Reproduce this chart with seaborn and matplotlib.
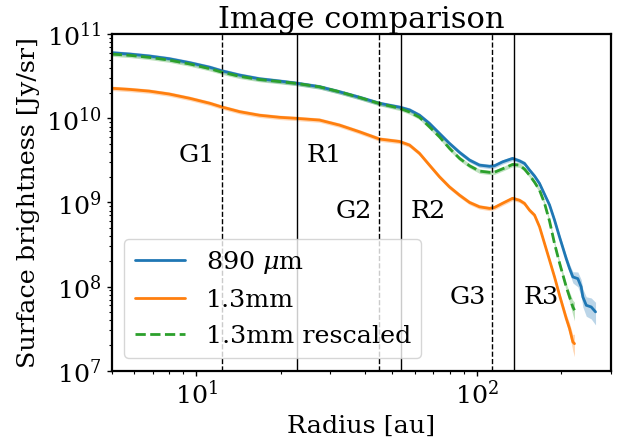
import matplotlib
matplotlib.use("Agg")
import matplotlib.pyplot as plt
import seaborn as sns
import numpy as np

# ---------------- data ----------------
radius_890 = [5.0, 5.8, 6.8, 8.0, 9.5, 11.2, 12.3, 14.3, 16.8, 19.8, 22.8, 27.5,
              32.4, 38.2, 45.0, 53.0, 57.6, 62.5, 67.8, 73.6, 79.9, 86.8, 94.2,
              102.2, 111.0, 115.6, 123.5, 134.1, 142.0, 147.9, 154.1, 160.6,
              167.3, 174.3, 181.6, 189.2, 197.1, 208.3, 214.0, 219.9, 222.9,
              229.1, 235.5, 238.7, 245.5, 255.7, 264.9]
sb_890 = [6.04e10, 5.82e10, 5.52e10, 5.13e10, 4.59e10, 4.05e10, 3.69e10, 3.27e10,
          2.96e10, 2.78e10, 2.62e10, 2.38e10, 2.07e10, 1.78e10, 1.51e10, 1.36e10,
          1.26e10, 1.09e10, 8.71e9, 6.62e9, 5.04e9, 3.94e9, 3.19e9, 2.78e9,
          2.69e9, 2.73e9, 3.04e9, 3.34e9, 3.12e9, 2.91e9, 2.43e9, 2.06e9,
          1.68e9, 1.25e9, 9.33e8, 6.17e8, 3.89e8, 2.14e8, 1.64e8, 1.30e8,
          1.28e8, 1.24e8, 9.89e7, 7.52e7, 5.98e7, 5.71e7, 4.99e7]
err_890 = [0.06, 0.06, 0.06, 0.06, 0.06, 0.06, 0.06, 0.06, 0.06, 0.06, 0.06, 0.06,
           0.06, 0.06, 0.06, 0.06, 0.06, 0.06, 0.06, 0.06, 0.06, 0.06, 0.06, 0.06,
           0.06, 0.06, 0.06, 0.06, 0.06, 0.06, 0.06, 0.06, 0.06, 0.06, 0.06, 0.07,
           0.08, 0.10, 0.12, 0.15, 0.17, 0.20, 0.22, 0.24, 0.26, 0.28, 0.30]

radius_13 = [5.0, 5.8, 6.8, 8.0, 9.5, 11.2, 12.3, 14.3, 16.8, 19.8, 22.8, 27.5,
             32.4, 38.2, 45.0, 53.0, 57.6, 62.5, 67.8, 73.6, 79.9, 86.8, 94.2,
             102.2, 111.0, 115.6, 123.5, 134.1, 142.0, 147.9, 154.1, 160.6,
             167.3, 174.3, 181.6, 189.2, 197.1, 208.3, 214.0, 219.9, 222.9]
sb_13 = [2.28e10, 2.21e10, 2.11e10, 1.95e10, 1.73e10, 1.51e10, 1.37e10, 1.20e10,
         1.09e10, 1.03e10, 1.00e10, 9.55e9, 8.32e9, 6.92e9, 5.68e9, 5.31e9,
         4.81e9, 3.83e9, 2.78e9, 2.02e9, 1.53e9, 1.22e9, 1.00e9, 8.87e8,
         8.49e8, 8.71e8, 9.77e8, 1.12e9, 1.06e9, 9.73e8, 8.09e8, 7.06e8,
         5.13e8, 3.25e8, 2.06e8, 1.30e8, 7.89e7, 4.17e7, 3.16e7, 2.19e7, 2.09e7]
err_13 = [0.06, 0.06, 0.06, 0.06, 0.06, 0.06, 0.06, 0.06, 0.06, 0.06, 0.06, 0.06,
          0.06, 0.06, 0.06, 0.06, 0.06, 0.06, 0.06, 0.06, 0.06, 0.06, 0.06, 0.06,
          0.06, 0.06, 0.06, 0.06, 0.06, 0.06, 0.06, 0.06, 0.06, 0.06, 0.06, 0.07,
          0.08, 0.12, 0.16, 0.22, 0.30]

sb_13_rescaled = [5.82e10, 5.62e10, 5.32e10, 4.94e10, 4.43e10, 3.89e10, 3.56e10,
                  3.16e10, 2.90e10, 2.74e10, 2.60e10, 2.37e10, 2.07e10, 1.77e10,
                  1.50e10, 1.32e10, 1.19e10, 1.03e10, 7.94e9, 6.04e9, 4.40e9,
                  3.34e9, 2.73e9, 2.36e9, 2.28e9, 2.29e9, 2.51e9, 2.83e9, 2.78e9,
                  2.49e9, 2.11e9, 1.74e9, 1.40e9, 9.77e8, 6.00e8, 3.24e8, 1.91e8,
                  9.89e7, 7.52e7, 5.71e7, 5.22e7]
err_13_rescaled = [0.06, 0.06, 0.06, 0.06, 0.06, 0.06, 0.06, 0.06, 0.06, 0.06, 0.06,
                   0.06, 0.06, 0.06, 0.06, 0.06, 0.06, 0.06, 0.06, 0.06, 0.06, 0.06,
                   0.06, 0.06, 0.06, 0.06, 0.06, 0.06, 0.06, 0.06, 0.06, 0.06, 0.06,
                   0.06, 0.06, 0.07, 0.08, 0.10, 0.14, 0.20, 0.25]

series_labels = ["890 $\\mu$m", "1.3mm", "1.3mm rescaled"]

gap_names = ["G1", "G2", "G3"]
gap_radii = [12.4, 44.8, 113.7]
ring_names = ["R1", "R2", "R3"]
ring_radii = [22.9, 53.7, 135.9]
label_heights = [3.6e9, 7.7e8, 7.3e7]

# ---------------- style ----------------
sns.set_style("ticks")
FS = 18.3
plt.rcParams.update({
    "font.family": ["DejaVu Serif"],
    "mathtext.fontset": "dejavuserif",
    "font.size": FS,
    "axes.titlesize": FS * 1.2,
    "axes.labelsize": FS,
    "xtick.labelsize": FS,
    "ytick.labelsize": FS,
    "legend.fontsize": FS,
    "axes.edgecolor": "black",
    "axes.linewidth": 1.6,
    "text.color": "black",
    "axes.labelcolor": "black",
    "xtick.color": "black",
    "ytick.color": "black",
    "xtick.direction": "out",
    "ytick.direction": "out",
    "xtick.major.size": 3.5,
    "ytick.major.size": 3.5,
    "xtick.minor.size": 2.0,
    "ytick.minor.size": 2.0,
    "xtick.major.width": 1.0,
    "ytick.major.width": 1.0,
    "xtick.minor.width": 0.8,
    "ytick.minor.width": 0.8,
})

colors = ["#1f77b4", "#ff7f0e", "#2ca02c"]

fig, ax = plt.subplots(figsize=(6.24, 4.37), dpi=100)
fig.subplots_adjust(left=0.179, right=0.9787, bottom=0.152, top=0.9215)

series = [
    (radius_890, sb_890, err_890, colors[0], "-", series_labels[0]),
    (radius_13, sb_13, err_13, colors[1], "-", series_labels[1]),
    (radius_13, sb_13_rescaled, err_13_rescaled, colors[2], "--", series_labels[2]),
]
for r, v, e, c, ls, lab in series:
    r = np.asarray(r)
    v = np.asarray(v)
    e = np.asarray(e)
    ax.fill_between(r, v * (1 - e), v * (1 + e), color=c, alpha=0.3, lw=0)
    sns.lineplot(x=r, y=v, ax=ax, color=c, linestyle=ls, linewidth=2,
                 label=lab, errorbar=None, sort=False)

ax.set_xscale("log")
ax.set_yscale("log")
ax.set_xlim(5, 300)
ax.set_ylim(1e7, 1e11)

for name, rr, h in zip(gap_names, gap_radii, label_heights):
    ax.axvline(rr, color="black", linestyle="--", linewidth=1)
    ax.annotate(name, xy=(rr, h), xytext=(-5, 0), textcoords="offset points",
                ha="right", va="center")
for name, rr, h in zip(ring_names, ring_radii, label_heights):
    ax.axvline(rr, color="black", linestyle="-", linewidth=1)
    ax.annotate(name, xy=(rr, h), xytext=(7, 0), textcoords="offset points",
                ha="left", va="center")

ax.set_title("Image comparison", pad=3)
ax.set_xlabel("Radius [au]")
ax.set_ylabel("Surface brightness [Jy/sr]")
ax.legend(loc="lower left", frameon=True)

fig.savefig("out.png", dpi=100)
